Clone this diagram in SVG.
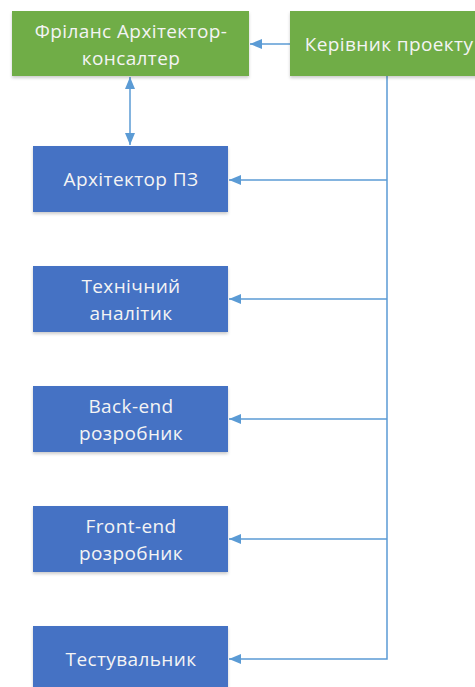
<svg xmlns="http://www.w3.org/2000/svg" width="475" height="687" viewBox="0 0 475 687">
<defs>
<style>
.g{fill:#70AD47}
.b{fill:#4472C4}
.t{font-family:"Open Sans","Liberation Sans",sans-serif;font-size:19px;letter-spacing:0.4px;fill:#F4F4F4;text-anchor:middle}
.c{stroke:#5B9BD5;stroke-width:1.5;fill:none}
</style>
<filter id="sh" x="-10%" y="-10%" width="120%" height="130%">
<feDropShadow dx="0" dy="2" stdDeviation="1.5" flood-color="#000" flood-opacity="0.2"/>
</filter>
<marker id="ah" viewBox="0 0 12 10" refX="12" refY="5" markerWidth="12" markerHeight="10" markerUnits="userSpaceOnUse" orient="auto-start-reverse">
<path d="M0,0 L12,5 L0,10 z" fill="#5B9BD5"/>
</marker>
</defs>
<rect width="475" height="687" fill="#FFFFFF"/>
<g id="connectors">
<line class="c" x1="290" y1="44" x2="250" y2="44" marker-end="url(#ah)"/>
<line class="c" x1="130" y1="77" x2="130" y2="145" marker-start="url(#ah)" marker-end="url(#ah)"/>
<polyline class="c" points="387,76 387,659 229,659" marker-end="url(#ah)"/>
<line class="c" x1="387" y1="180" x2="229" y2="180" marker-end="url(#ah)"/>
<line class="c" x1="387" y1="299" x2="229" y2="299" marker-end="url(#ah)"/>
<line class="c" x1="387" y1="419" x2="229" y2="419" marker-end="url(#ah)"/>
<line class="c" x1="387" y1="539" x2="229" y2="539" marker-end="url(#ah)"/>
</g>
<g id="freelance">
<rect class="g" x="12" y="11" width="237" height="65" filter="url(#sh)"/>
<text class="t" x="131" y="38">Фріланс Архітектор-</text>
<text class="t" x="131" y="65">консалтер</text>
</g>
<g id="pm">
<rect class="g" x="290" y="11" width="195" height="65" filter="url(#sh)"/>
<text class="t" x="389" y="51">Керівник проекту</text>
</g>
<g id="architect">
<rect class="b" x="33" y="146" width="195" height="66" filter="url(#sh)"/>
<text class="t" x="131" y="186">Архітектор ПЗ</text>
</g>
<g id="analyst">
<rect class="b" x="33" y="266" width="195" height="66" filter="url(#sh)"/>
<text class="t" x="131" y="293">Технічний</text>
<text class="t" x="131" y="320">аналітик</text>
</g>
<g id="backend">
<rect class="b" x="33" y="386" width="195" height="66" filter="url(#sh)"/>
<text class="t" x="131" y="413">Back-end</text>
<text class="t" x="131" y="440">розробник</text>
</g>
<g id="frontend">
<rect class="b" x="33" y="506" width="195" height="66" filter="url(#sh)"/>
<text class="t" x="131" y="533">Front-end</text>
<text class="t" x="131" y="560">розробник</text>
</g>
<g id="tester">
<rect class="b" x="33" y="626" width="195" height="66" filter="url(#sh)"/>
<text class="t" x="131" y="666">Тестувальник</text>
</g>
</svg>
